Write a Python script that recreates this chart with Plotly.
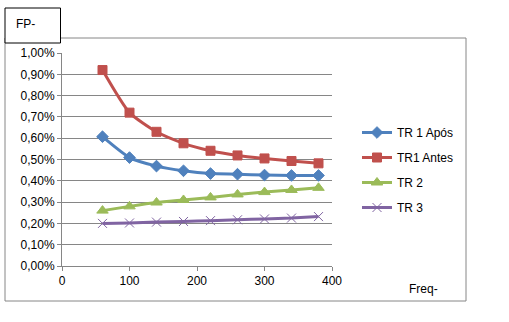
import plotly.graph_objects as go

freq = [60, 100, 140, 180, 220, 260, 300, 340, 380]
tr1_apos = [0.607, 0.509, 0.469, 0.447, 0.434, 0.431, 0.427, 0.425, 0.425]
tr1_antes = [0.92, 0.72, 0.63, 0.576, 0.541, 0.519, 0.505, 0.493, 0.482]
tr2 = [0.26, 0.28, 0.298, 0.31, 0.322, 0.336, 0.347, 0.357, 0.367]
tr3 = [0.20, 0.202, 0.206, 0.209, 0.213, 0.217, 0.221, 0.225, 0.232]

series = [
    ("TR 1 Após", tr1_apos, "#4F81BD", "diamond", 9, "spline"),
    ("TR1 Antes", tr1_antes, "#C0504D", "square", 9, "spline"),
    ("TR 2", tr2, "#9BBB59", "triangle-up", 10, "spline"),
    ("TR 3", tr3, "#8064A2", "x-thin-open", 9, "spline"),
]

fig = go.Figure()
for i, (name, vals, col, sym, sz, shp) in enumerate(series):
    fig.add_trace(go.Scatter(
        x=freq, y=[v / 100 for v in vals], name=name, mode="lines+markers",
        line=dict(color=col, width=3, shape=shp, smoothing=0.6),
        marker=dict(symbol=sym, size=sz, color=col, line=dict(color=col, width=1)),
        legendgroup=str(i),
    ))

W, H = 509, 322
L, R, T, B = 62, 332, 53, 266

def px(x):
    return (x - L) / (R - L)

def py(y):
    return (B - y) / (B - T)

FONT = "Liberation Sans, Arial, sans-serif"

fig.update_layout(
    width=W, height=H,
    margin=dict(l=L, r=W - R, t=T, b=H - B),
    paper_bgcolor="white", plot_bgcolor="white",
    separators=",.",
    font=dict(family=FONT, size=12, color="black"),
    showlegend=True,
    legend=dict(x=px(357), y=py(118), xanchor="left", yanchor="top",
                font=dict(size=12), tracegroupgap=6, traceorder="grouped",
                bgcolor="rgba(0,0,0,0)"),
    xaxis=dict(range=[0, 400], tickvals=[0, 100, 200, 300, 400], showgrid=False,
               showline=True, linecolor="#868686", linewidth=1,
               ticks="outside", ticklen=4, tickcolor="#868686", zeroline=False,
               tickfont=dict(size=12)),
    yaxis=dict(range=[0, 0.01], dtick=0.001, tickformat=".2%", showgrid=True,
               gridcolor="#868686", gridwidth=1, showline=True, linecolor="#868686",
               linewidth=1, ticks="outside", ticklen=4, tickcolor="#868686",
               zeroline=False, tickfont=dict(size=12)),
    shapes=[
        dict(type="rect", xref="paper", yref="paper", x0=px(5), x1=px(466),
             y0=py(301), y1=py(38), line=dict(color="#868686", width=1),
             fillcolor="rgba(0,0,0,0)", layer="below"),
        dict(type="rect", xref="paper", yref="paper", x0=px(5), x1=px(60.5),
             y0=py(43), y1=py(8), line=dict(color="black", width=1),
             fillcolor="white", layer="above"),
    ],
    annotations=[
        dict(text="FP-", xref="paper", yref="paper", x=px(25), y=py(24),
             xanchor="center", yanchor="middle",
             showarrow=False, font=dict(size=12)),
        dict(text="Freq-", xref="paper", yref="paper", x=px(423), y=py(289),
             xanchor="center", yanchor="middle",
             showarrow=False, font=dict(size=12)),
    ],
)

fig.write_html("out.html")
